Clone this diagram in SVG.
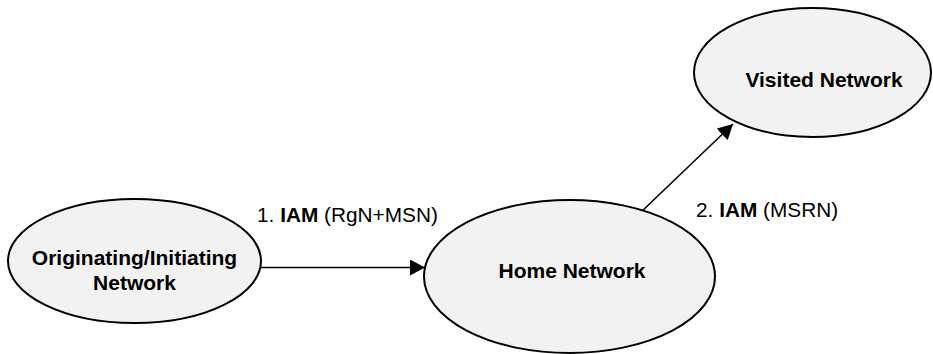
<svg xmlns="http://www.w3.org/2000/svg" width="933" height="354" viewBox="0 0 933 354">
<style>
.node{fill:#f2f2f2;stroke:#000;stroke-width:2}
.nt{font-family:"Liberation Sans",Arial,sans-serif;font-size:21px;font-weight:bold;fill:#000;text-anchor:middle}
.lbl{font-family:"Liberation Sans",Arial,sans-serif;font-size:20.8px;fill:#000}
.b{font-weight:bold}
.conn{stroke:#000;stroke-width:1.6;fill:none}
</style>
<defs>
<marker id="ah" markerWidth="15" markerHeight="16" refX="15" refY="8" orient="auto" markerUnits="userSpaceOnUse">
<path d="M0,0 L15,8 L0,16 Z" fill="#000"/>
</marker>
</defs>
<rect width="933" height="354" fill="#fff"/>
<g id="connectors">
<line class="conn" x1="261" y1="267.5" x2="425" y2="267.5" marker-end="url(#ah)"/>
<line class="conn" x1="640" y1="213" x2="733" y2="124" marker-end="url(#ah)"/>
</g>
<g id="node-originating">
<ellipse class="node" cx="134.5" cy="261" rx="126.5" ry="62"/>
<text class="nt" x="134.5" y="265">Originating/Initiating</text>
<text class="nt" x="134.5" y="290">Network</text>
</g>
<g id="node-home">
<ellipse class="node" cx="569.5" cy="276.5" rx="145.5" ry="76.5"/>
<text class="nt" x="572" y="278">Home Network</text>
</g>
<g id="node-visited">
<ellipse class="node" cx="812.5" cy="72.5" rx="118.5" ry="64.5"/>
<text class="nt" x="824" y="87">Visited Network</text>
</g>
<g id="labels">
<text class="lbl" x="257" y="222">1. <tspan class="b">IAM</tspan> (RgN+MSN)</text>
<text class="lbl" x="696" y="217">2. <tspan class="b">IAM</tspan> (MSRN)</text>
</g>
</svg>
